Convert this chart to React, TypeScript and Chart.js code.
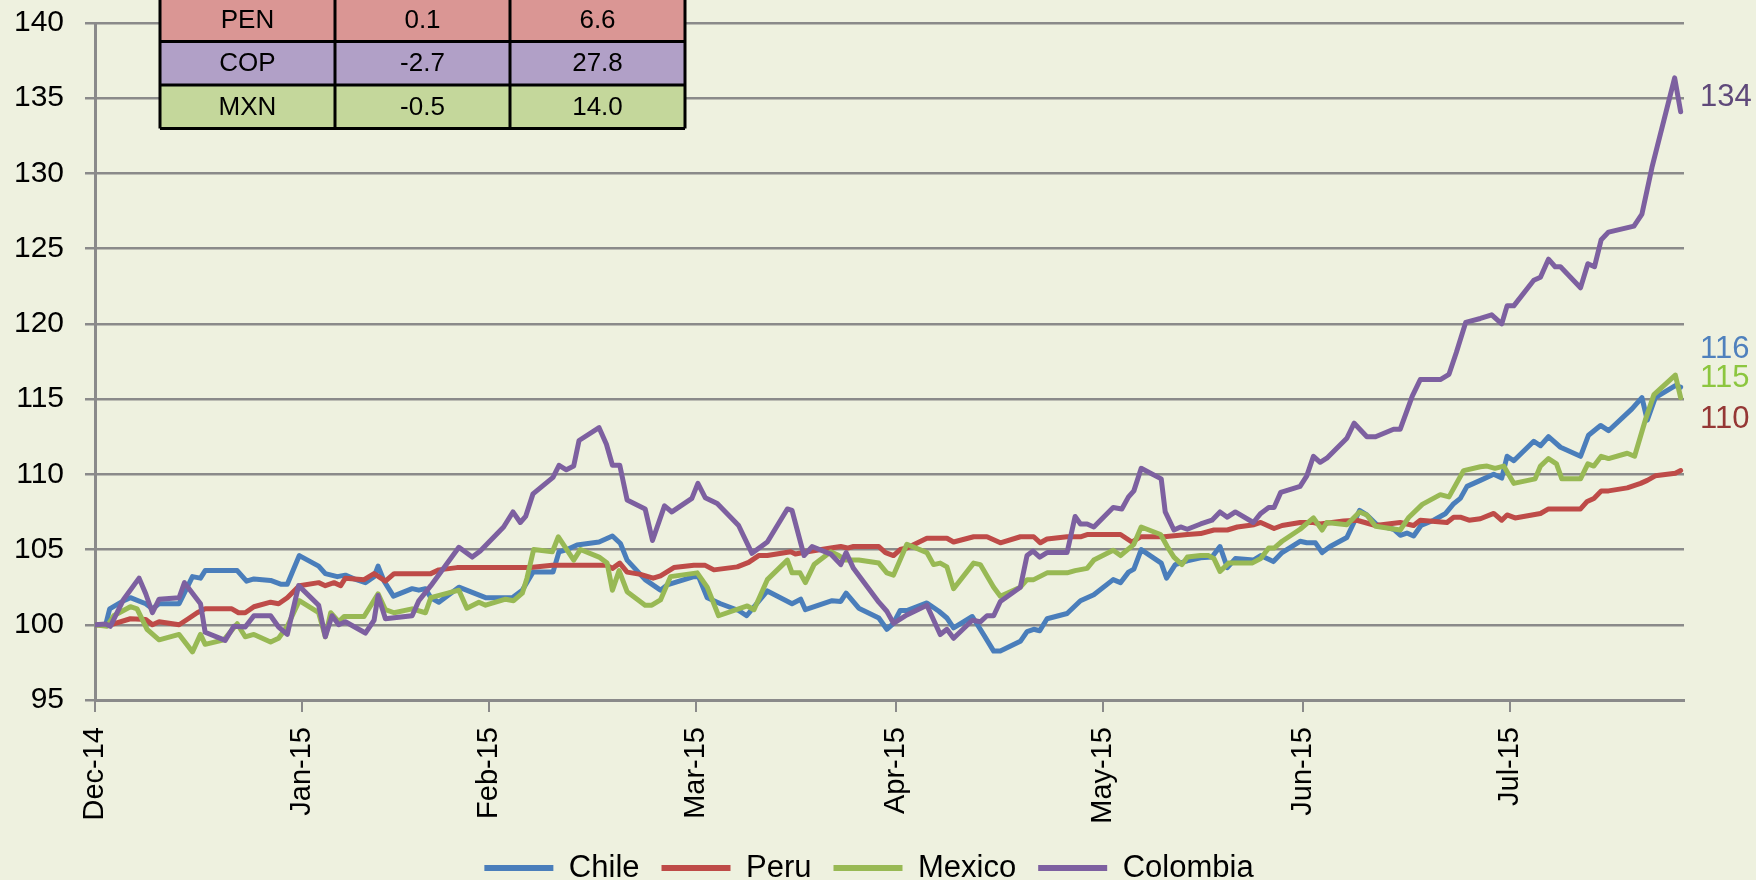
import React, { useEffect, useRef } from 'react';
import { Chart, registerables } from 'chart.js';

Chart.register(...registerables);

// ---- data ----
const tickDays = [0, 31, 59, 90, 120, 151, 181, 212];
const tickLabels = ['Dec-14', 'Jan-15', 'Feb-15', 'Mar-15', 'Apr-15', 'May-15', 'Jun-15', 'Jul-15'];
const xMaxDay = 238;
const seriesNames = ['Chile', 'Peru', 'Mexico', 'Colombia'];

// [day offset from first tick, index value]
const chile: [number, number][] = [
  [0, 100], [1.6, 100], [2.2, 101.06], [4.3, 101.6], [5.3, 101.8], [7.6, 101.4], [8.6, 101.06], [9.6, 101.4],
  [12.6, 101.4], [13.6, 102.3], [14.6, 103.2], [15.8, 103.1], [16.5, 103.6], [21.3, 103.6], [22.7, 102.9],
  [23.8, 103.05], [26.3, 102.95], [27.8, 102.7], [28.8, 102.7], [30.6, 104.6], [33.5, 103.9], [34.5, 103.4],
  [36.3, 103.2], [37.5, 103.3], [38.8, 103.05], [40.5, 102.8], [41.8, 103.2], [42.4, 103.9], [43.3, 102.9],
  [44.7, 101.9], [47.5, 102.4], [48.5, 102.3], [49.5, 102.4], [50.3, 101.8], [51.5, 101.5], [54.5, 102.5],
  [56.5, 102.15], [58.5, 101.8], [62.5, 101.8], [64, 102.3], [65.6, 103.5], [68.6, 103.5], [69.5, 104.85],
  [70.7, 105.0], [72.2, 105.3], [75.5, 105.5], [77.5, 105.9], [78.7, 105.4], [79.7, 104.3], [82.4, 103.0],
  [84.7, 102.3], [85.7, 102.65], [89.7, 103.2], [90.4, 103.2], [91.7, 101.8], [93.7, 101.4], [96.4, 100.95],
  [97.6, 100.6], [100.7, 102.25], [104.4, 101.4], [105.7, 101.7], [106.4, 101.0], [110.4, 101.6], [111.7, 101.55],
  [112.5, 102.1], [114.4, 101.1], [117.4, 100.45], [118.6, 99.7], [119.6, 100.1], [120.6, 100.95], [121.6, 100.95],
  [124.6, 101.45], [126.4, 100.9], [127.6, 100.45], [128.6, 99.8], [131.4, 100.55], [133.1, 99.35], [134.6, 98.25],
  [135.6, 98.25], [138.6, 98.9], [139.6, 99.55], [140.6, 99.7], [141.5, 99.6], [142.6, 100.4], [145.6, 100.75],
  [147.6, 101.6], [149.6, 102.0], [152.5, 103.0], [153.6, 102.8], [154.8, 103.5], [155.6, 103.7], [156.7, 105.0],
  [159.7, 104.1], [160.5, 103.1], [161.8, 104.0], [163.6, 104.25], [165.6, 104.45], [167.3, 104.5], [168.5, 105.2],
  [169.6, 103.8], [170.8, 104.4], [173.5, 104.3], [174.6, 104.6], [176.5, 104.2], [177.8, 104.8], [180.5, 105.55],
  [181.5, 105.45], [182.8, 105.45], [183.8, 104.8], [185, 105.2], [187.5, 105.8], [189.4, 107.6], [190.5, 107.3],
  [192, 106.65], [194.5, 106.35], [195.5, 105.95], [196.5, 106.1], [197.5, 105.9], [198.6, 106.6], [200.5, 106.95],
  [202.3, 107.4], [203.5, 108.05], [204.5, 108.4], [205.5, 109.2], [207.5, 109.6], [209.5, 110.0], [210.7, 109.75],
  [211.5, 111.2], [212.5, 110.9], [215.5, 112.2], [216.5, 111.9], [217.7, 112.5], [219.5, 111.8], [222.5, 111.2],
  [223.7, 112.6], [225.5, 113.25], [226.7, 112.9], [230.2, 114.35], [231.7, 115.1], [232.5, 113.6], [233.7, 115.1],
  [236.7, 115.9], [237.5, 115.8],
];

const peru: [number, number][] = [
  [0, 100], [2.3, 100], [5.3, 100.4], [7.6, 100.35], [8.6, 100.0], [9.6, 100.2], [12.6, 100.0], [13.8, 100.35],
  [15.3, 100.8], [16.5, 101.06], [20.5, 101.06], [21.5, 100.8], [22.5, 100.8], [23.8, 101.2], [26.3, 101.5],
  [27.5, 101.4], [28.8, 101.8], [30.6, 102.6], [33.5, 102.8], [34.5, 102.6], [35.8, 102.8], [36.8, 102.6],
  [37.5, 103.1], [40.3, 103.0], [41.8, 103.4], [43.5, 102.9], [44.8, 103.4], [50.3, 103.4], [51.5, 103.65],
  [54.2, 103.8], [65.2, 103.8], [68.5, 103.95], [76.7, 103.95], [77.5, 103.75], [78.6, 104.1], [79.7, 103.5],
  [81.7, 103.35], [83.6, 103.1], [84.7, 103.25], [86.7, 103.8], [89.7, 103.95], [91.4, 103.95], [92.7, 103.65],
  [96.2, 103.85], [97.9, 104.15], [99.4, 104.6], [100.7, 104.6], [104.2, 104.85], [104.9, 104.7], [106.7, 104.85],
  [110.2, 105.1], [111.7, 105.2], [112.7, 105.1], [113.6, 105.2], [117.4, 105.2], [118.4, 104.8], [119.6, 104.6],
  [120.6, 105.0], [121.6, 105.1], [124.6, 105.75], [127.6, 105.75], [128.6, 105.5], [131.6, 105.85], [133.6, 105.85],
  [135.6, 105.45], [138.6, 105.85], [140.6, 105.85], [141.6, 105.45], [142.6, 105.7], [145.6, 105.85], [147.6, 105.85],
  [148.6, 106.0], [153.6, 106.0], [155.3, 105.5], [156.6, 105.85], [160.1, 105.85], [163.6, 106.0], [165.6, 106.06],
  [167.6, 106.3], [169.6, 106.3], [171.1, 106.5], [173.6, 106.65], [174.6, 106.8], [176.6, 106.4], [177.8, 106.6],
  [180.5, 106.8], [182.5, 106.8], [183.5, 106.7], [187, 106.9], [189, 106.95], [191.8, 106.6], [195.5, 106.8],
  [197.5, 106.6], [198.5, 106.95], [202.5, 106.8], [203.5, 107.15], [204.5, 107.15], [205.8, 106.95], [207.5, 107.05],
  [209.5, 107.4], [210.7, 106.95], [211.5, 107.3], [212.7, 107.1], [216.5, 107.4], [217.7, 107.7], [222.5, 107.7],
  [223.5, 108.2], [224.5, 108.4], [225.6, 108.9], [226.7, 108.9], [229.5, 109.1], [231.5, 109.4], [232.5, 109.6],
  [233.7, 109.9], [236.7, 110.07], [237.5, 110.25],
];

const mexico: [number, number][] = [
  [0, 100], [1.8, 99.9], [2.8, 100.6], [5.3, 101.2], [6.3, 101.06], [7.8, 99.7], [9.6, 99.0], [12.6, 99.36],
  [14.6, 98.2], [15.8, 99.36], [16.5, 98.7], [19.3, 99.0], [21.3, 100.07], [22.5, 99.2], [23.8, 99.36], [26.3, 98.85],
  [27.5, 99.1], [28.8, 99.9], [30.6, 101.6], [33.5, 100.8], [34.5, 99.2], [35.3, 100.8], [36.5, 100.2], [37.3, 100.55],
  [40.3, 100.55], [42.4, 102.06], [43.5, 101.0], [44.8, 100.8], [47.5, 101.06], [49.5, 100.8], [50.3, 101.8],
  [54.5, 102.3], [55.7, 101.1], [57.5, 101.5], [58.5, 101.3], [61.5, 101.7], [62.7, 101.6], [64, 102.1], [64.7, 103.1],
  [65.7, 105.0], [68.5, 104.85], [69.4, 105.85], [71.7, 104.3], [72.7, 105.0], [75.5, 104.5], [76.7, 104.1],
  [77.5, 102.3], [78.5, 103.6], [79.7, 102.2], [82.4, 101.3], [83.4, 101.3], [84.7, 101.65], [86.2, 103.2],
  [90.2, 103.45], [91.7, 102.5], [93.4, 100.6], [97.7, 101.25], [98.7, 101.0], [100.7, 103.0], [103.7, 104.3],
  [104.4, 103.45], [105.6, 103.45], [106.4, 102.8], [107.7, 104.0], [110.2, 104.85], [111.4, 104.6], [112.4, 104.3],
  [114.4, 104.3], [117.4, 104.1], [118.6, 103.45], [119.6, 103.3], [121.6, 105.35], [124.6, 104.8], [125.6, 104.0],
  [126.6, 104.1], [127.6, 103.85], [128.6, 102.4], [131.6, 104.1], [132.6, 104.0], [134.6, 102.5], [135.6, 101.9],
  [138.6, 102.5], [139.6, 103.0], [140.6, 103.0], [142.6, 103.45], [145.6, 103.45], [146.8, 103.6], [148.6, 103.75],
  [149.6, 104.3], [152.5, 104.95], [153.6, 104.6], [155.6, 105.35], [156.7, 106.5], [159.6, 106.0], [160.6, 105.2],
  [161.6, 104.5], [162.8, 104.0], [163.6, 104.5], [165.6, 104.6], [166.8, 104.6], [167.6, 104.4], [168.5, 103.55],
  [169.8, 104.1], [173.3, 104.1], [174.6, 104.4], [175.8, 105.1], [176.6, 105.1], [177.8, 105.55], [180.5, 106.35],
  [182.5, 107.1], [183.8, 106.3], [184.5, 106.8], [187.5, 106.65], [189.4, 107.5], [190.5, 107.3], [191.8, 106.55],
  [195.5, 106.3], [196.8, 107.15], [198.8, 108.0], [201.5, 108.65], [202.8, 108.5], [205, 110.25], [207.5, 110.5],
  [208.5, 110.55], [209.7, 110.4], [211, 110.55], [212.5, 109.4], [215.7, 109.7], [216.5, 110.55], [217.7, 111.05],
  [218.9, 110.7], [219.7, 109.7], [222.5, 109.7], [223.6, 110.7], [224.5, 110.55], [225.6, 111.2], [226.7, 111.05],
  [229.5, 111.4], [230.6, 111.2], [232.2, 113.6], [233.5, 115.3], [236.7, 116.6], [237.5, 115.1],
];

const colombia: [number, number][] = [
  [0, 100], [1.6, 100.05], [2.3, 99.9], [4.3, 101.7], [6.6, 103.1], [7.6, 102.06], [8.6, 100.8], [9.6, 101.7],
  [12.6, 101.8], [13.4, 102.8], [15.8, 101.4], [16.5, 99.5], [19.5, 98.96], [20.8, 99.9], [22.5, 99.85], [23.8, 100.6],
  [26.3, 100.6], [27.5, 99.85], [28.8, 99.36], [30.5, 102.6], [33.5, 101.3], [34.5, 99.2], [35.5, 100.6], [36.5, 100.0],
  [37.5, 100.2], [40.5, 99.45], [41.8, 100.3], [42.4, 101.95], [43.5, 100.4], [47.5, 100.6], [48.5, 101.6],
  [50.3, 102.6], [54.5, 105.15], [56.5, 104.5], [57.7, 104.9], [61.2, 106.5], [62.6, 107.5], [63.7, 106.8],
  [64.5, 107.2], [65.6, 108.7], [68.6, 109.8], [69.5, 110.6], [70.6, 110.3], [71.7, 110.55], [72.5, 112.25],
  [75.5, 113.1], [76.6, 112.0], [77.5, 110.6], [78.6, 110.6], [79.7, 108.3], [82.4, 107.7], [83.5, 105.6],
  [85.3, 107.9], [86.4, 107.5], [89.4, 108.4], [90.3, 109.4], [91.4, 108.45], [93.2, 108.06], [96.4, 106.6],
  [98.4, 104.75], [100.7, 105.5], [103.7, 107.7], [104.4, 107.6], [106.2, 104.6], [107.4, 105.2], [110.2, 104.7],
  [111.7, 104.0], [112.5, 104.8], [113.6, 103.75], [117.4, 101.5], [118.6, 100.9], [119.6, 100.1], [121.6, 100.65],
  [124.6, 101.3], [126.6, 99.35], [127.6, 99.7], [128.6, 99.1], [131.4, 100.3], [132.6, 100.2], [133.6, 100.6],
  [134.6, 100.6], [135.6, 101.55], [138.6, 102.5], [139.6, 104.6], [140.5, 104.9], [141.5, 104.5], [142.6, 104.8],
  [145.6, 104.8], [146.8, 107.2], [147.6, 106.7], [148.6, 106.7], [149.6, 106.5], [152.5, 107.8], [153.8, 107.7],
  [154.8, 108.5], [155.6, 108.9], [156.7, 110.4], [159.7, 109.7], [160.3, 107.5], [161.6, 106.3], [162.6, 106.5],
  [163.6, 106.35], [165.6, 106.7], [167.3, 106.95], [168.5, 107.5], [169.6, 107.15], [170.8, 107.5], [173.5, 106.8],
  [174.6, 107.4], [175.8, 107.8], [176.6, 107.8], [177.6, 108.8], [180.5, 109.2], [181.5, 109.9], [182.5, 111.2],
  [183.5, 110.8], [184.5, 111.07], [187.5, 112.4], [188.6, 113.4], [190.5, 112.5], [191.8, 112.5], [194.5, 113.0],
  [195.5, 113.0], [197.3, 115.2], [198.5, 116.3], [201.5, 116.3], [202.8, 116.65], [203.9, 118.1], [205.3, 120.1],
  [207.5, 120.36], [209.2, 120.6], [210.7, 120.0], [211.5, 121.2], [212.5, 121.2], [215.5, 122.9], [216.5, 123.1],
  [217.7, 124.3], [218.7, 123.8], [219.5, 123.8], [222.5, 122.4], [223.6, 124.0], [224.6, 123.8], [225.6, 125.6],
  [226.7, 126.1], [230.5, 126.5], [231.7, 127.3], [233.2, 130.4], [236.6, 136.35], [237.5, 134.1],
];

const endLabelTexts = ['116', '110', '115', '134'];
const tableCurrencies = ['PEN', 'COP', 'MXN'];
const tableColumnA = ['0.1', '-2.7', '-0.5'];
const tableColumnB = ['6.6', '27.8', '14.0'];

// ---- styles ----
const BG = '#EEF1DF';
const GRID = '#8A8A8A';
const LINE_COLORS = ['#4A7EBB', '#BE4B48', '#98B954', '#7D60A0'];
const END_LABEL_COLORS = ['#4F81BD', '#953735', '#8CC63F', '#5F497A'];
const END_LABEL_DY = [-38, -51, -19, -14];
const TABLE_FILLS = ['#DA9694', '#B1A0C7', '#C4D79B'];
const SANS = '"Liberation Sans", Arial, sans-serif';
const LEGEND_TEXT_CENTER_Y = 868;
const LEGEND_SHIFT_X = 27;

const allSeries = [chile, peru, mexico, colombia];

const overlayPlugin = {
  id: 'overlay',
  beforeDraw(chart: any) {
    const ctx = chart.ctx;
    ctx.save();
    ctx.fillStyle = BG;
    ctx.fillRect(0, 0, chart.width, chart.height);
    ctx.restore();
  },
  afterLayout(chart: any) {
    const lg = chart.legend;
    if (lg) {
      const pad = lg.options.labels.padding;
      const fs = lg.options.labels.font.size;
      lg.top = LEGEND_TEXT_CENTER_Y - pad - fs / 2;
      lg.bottom = chart.height;
      lg.height = lg.bottom - lg.top;
      lg.left += LEGEND_SHIFT_X;
      lg.right += LEGEND_SHIFT_X;
    }
  },
  afterDraw(chart: any) {
    const ctx = chart.ctx;
    const yScale = chart.scales.y;
    const area = chart.chartArea;
    ctx.save();
    // end-of-series labels
    ctx.font = `31px ${SANS}`;
    ctx.textAlign = 'left';
    ctx.textBaseline = 'middle';
    allSeries.forEach((s, i) => {
      const last = s[s.length - 1][1];
      ctx.fillStyle = END_LABEL_COLORS[i];
      ctx.fillText(endLabelTexts[i], area.right + 16, yScale.getPixelForValue(last) + END_LABEL_DY[i]);
    });
    // table
    const left = 160;
    const colW = 175;
    const rowH = 43.5;
    const top = -2;
    const cols = [tableCurrencies, tableColumnA, tableColumnB];
    tableCurrencies.forEach((_, r) => {
      ctx.fillStyle = TABLE_FILLS[r];
      ctx.fillRect(left, top + r * rowH, colW * 3, rowH);
    });
    ctx.strokeStyle = '#000';
    ctx.lineWidth = 3;
    ctx.beginPath();
    for (let r = 0; r <= tableCurrencies.length; r++) {
      ctx.moveTo(left, top + r * rowH);
      ctx.lineTo(left + colW * 3, top + r * rowH);
    }
    for (let c = 0; c <= 3; c++) {
      ctx.moveTo(left + c * colW, top);
      ctx.lineTo(left + c * colW, top + rowH * tableCurrencies.length);
    }
    ctx.stroke();
    ctx.fillStyle = '#000';
    ctx.font = `26px ${SANS}`;
    ctx.textAlign = 'center';
    ctx.textBaseline = 'middle';
    cols.forEach((col, c) => {
      col.forEach((txt, r) => {
        ctx.fillText(txt, left + c * colW + colW / 2, top + r * rowH + rowH / 2 + 1);
      });
    });
    ctx.restore();
  },
};

export default function App() {
  const canvasRef = useRef<HTMLCanvasElement | null>(null);

  useEffect(() => {
    document.body.style.margin = '0';
    document.body.style.background = BG;
    const canvas = canvasRef.current;
    if (!canvas) return;
    const chart = new Chart(canvas, {
      type: 'line',
      data: {
        datasets: allSeries.map((s, i) => ({
          label: seriesNames[i],
          data: s.map(([d, v]) => ({ x: d, y: v })),
          borderColor: LINE_COLORS[i],
          backgroundColor: LINE_COLORS[i],
          borderWidth: 5,
          pointRadius: 0,
          tension: 0,
          fill: false,
          borderJoinStyle: 'round',
          borderCapStyle: 'round',
          order: 4 - i,
        })),
      },
      options: {
        animation: false,
        responsive: false,
        maintainAspectRatio: false,
        layout: { padding: { top: 23, right: 72, bottom: 0, left: 0 } },
        plugins: {
          tooltip: { enabled: false },
          legend: {
            position: 'bottom',
            maxHeight: 20,
            labels: {
              boxWidth: 69,
              boxHeight: 6,
              padding: 22,
              color: '#000',
              font: { family: SANS, size: 31 },
              sort: (a: any, b: any) => a.datasetIndex - b.datasetIndex,
              generateLabels: (ch: any) =>
                (Chart.defaults.plugins.legend.labels.generateLabels as any)(ch).map((l: any) => ({
                  ...l,
                  lineWidth: 0,
                  fillStyle: LINE_COLORS[l.datasetIndex],
                })),
            },
          },
        },
        scales: {
          x: {
            type: 'linear',
            min: 0,
            max: xMaxDay,
            afterBuildTicks: (scale: any) => {
              scale.ticks = tickDays.map((v) => ({ value: v }));
            },
            afterFit: (scale: any) => {
              scale.height = 160;
              scale.paddingLeft = 0;
              scale.paddingRight = 0;
            },
            ticks: {
              autoSkip: false,
              minRotation: 90,
              maxRotation: 90,
              padding: 15,
              color: '#000',
              font: { family: SANS, size: 29 },
              callback: (_v: any, idx: number) => tickLabels[idx],
            },
            grid: { drawOnChartArea: false, drawTicks: true, tickLength: 12, color: GRID, lineWidth: 2 },
            border: { display: true, color: GRID, width: 3 },
          },
          y: {
            min: 95,
            max: 140,
            afterFit: (scale: any) => {
              scale.width = 95;
              scale.paddingTop = 0;
              scale.paddingBottom = 0;
            },
            ticks: {
              stepSize: 5,
              padding: 21,
              color: '#000',
              font: { family: SANS, size: 30 },
            },
            grid: { color: GRID, lineWidth: 2.5, tickLength: 10 },
            border: { display: true, color: GRID, width: 3 },
          },
        },
      } as any,
      plugins: [overlayPlugin],
    });
    return () => chart.destroy();
  }, []);

  return (
    <div style={{ width: 1756, height: 880, background: BG }}>
      <canvas ref={canvasRef} width={1756} height={880} style={{ display: 'block' }} />
    </div>
  );
}
